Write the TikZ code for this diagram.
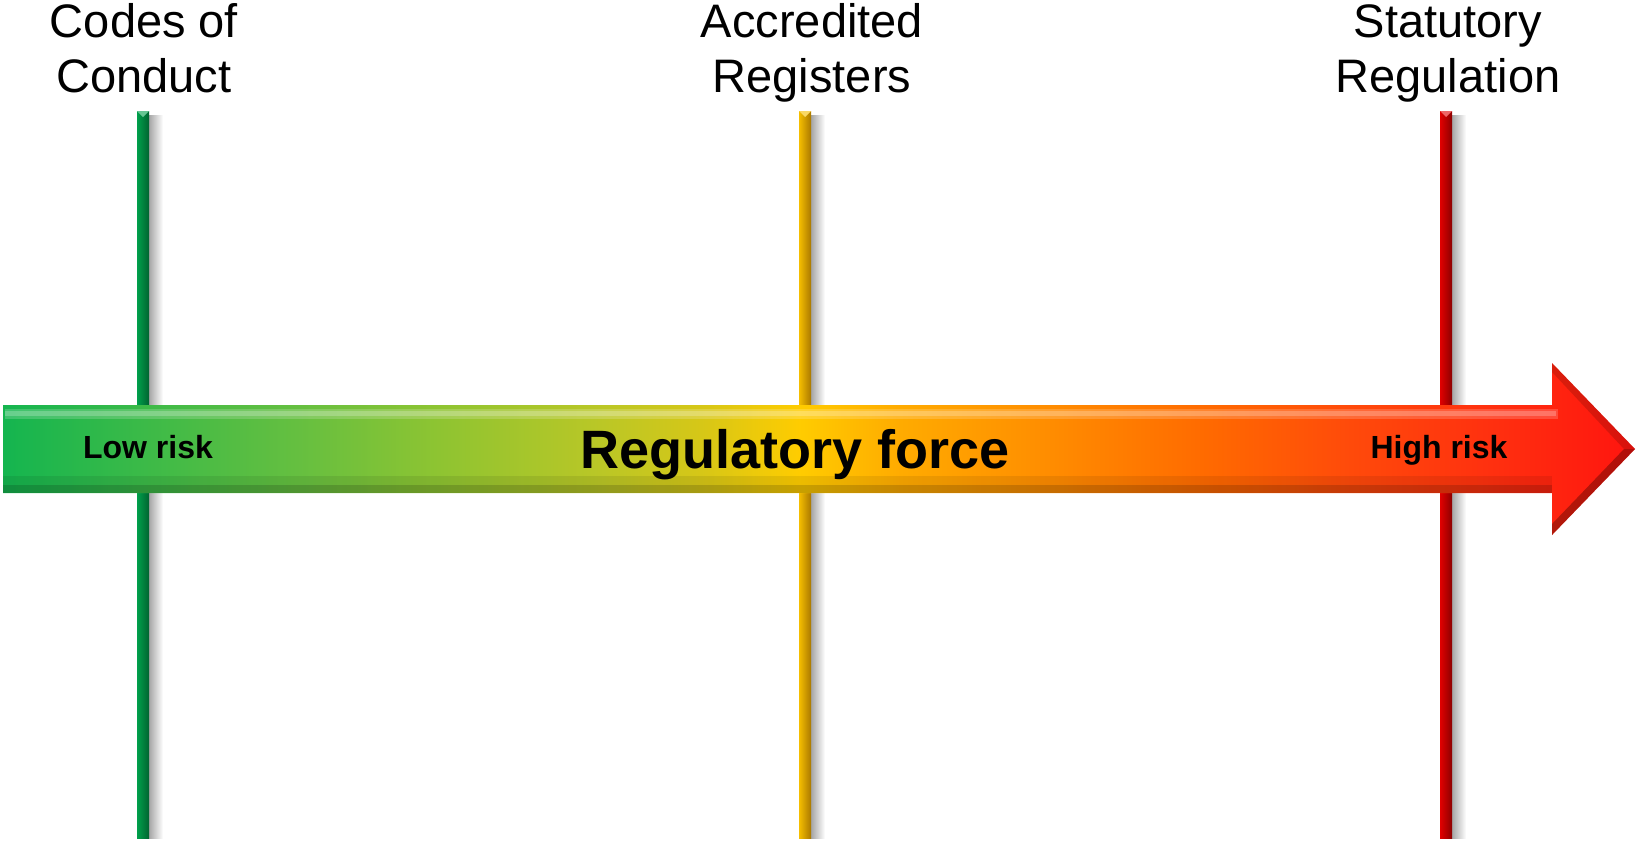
\documentclass[tikz,border=0pt]{standalone}
\usepackage{fontspec}
\setmainfont{Liberation Sans}
\usetikzlibrary{calc}
\definecolor{codesL}{RGB}{0,160,75}
\definecolor{codesD}{RGB}{0,100,48}
\definecolor{accredL}{RGB}{245,190,0}
\definecolor{accredD}{RGB}{170,120,0}
\definecolor{statutL}{RGB}{225,0,0}
\definecolor{statutD}{RGB}{140,0,0}
\pgfdeclarehorizontalshading{forceshade}{100bp}{rgb(0bp)=(0.08,0.71,0.31); rgb(25bp)=(0.08,0.71,0.31);
  rgb(29.5bp)=(0.24,0.73,0.28); rgb(34.1bp)=(0.40,0.75,0.25); rgb(38.7bp)=(0.57,0.77,0.19);
  rgb(43.3bp)=(0.73,0.78,0.15); rgb(46.4bp)=(0.84,0.78,0.09); rgb(49.4bp)=(1,0.80,0);
  rgb(52.5bp)=(1,0.67,0); rgb(57.1bp)=(1,0.55,0); rgb(61.7bp)=(1,0.42,0);
  rgb(66.3bp)=(1,0.29,0.04); rgb(70.9bp)=(1,0.18,0.06); rgb(75bp)=(1,0.08,0.06); rgb(100bp)=(1,0.08,0.06)}
\tikzset{
  regname/.style={font=\fontsize{23.5}{27.5}\selectfont,align=center,anchor=south,inner sep=0pt,text depth=0pt},
  riskname/.style={font=\fontsize{16}{19}\selectfont\bfseries,anchor=base,inner sep=0pt},
  forcename/.style={font=\fontsize{27}{32}\selectfont\bfseries,anchor=base,inner sep=0pt}
}
\begin{document}
\begin{tikzpicture}[x=0.5pt,y=-0.5pt]
\useasboundingbox (0,0) rectangle (1636,842);
\foreach \x/\col/\n in {143/codes/cod,805/accred/acc,1446/statut/sta}{
  \coordinate (\n top) at (\x,111);
  \coordinate (\n bot) at (\x,838);
  \shade[left color=black!35,right color=white] ($(\n top)+(6,4)$) rectangle ($(\n bot)+(20,0)$);
  \shade[left color=\col L,right color=\col D] ($(\n top)+(-6,0)$) rectangle ($(\n bot)+(6,0)$);
  \fill[\col L!60!white] ($(\n top)+(-6,0)$) -- ($(\n top)+(6,0)$) -- ($(\n top)+(0,6)$) -- cycle;
}
\path[shading=forceshade] (3,405) -- (1552,405) -- (1552,363) -- (1635,449) -- (1552,535) -- (1552,493) -- (3,493) -- cycle;
\fill[white,opacity=.18] (5,409) rectangle (1558,419);
\fill[white,opacity=.22] (5,411) rectangle (1556,416);
\fill[black,opacity=.08] (3,476) rectangle (1552,493);
\fill[black,opacity=.15] (3,485) rectangle (1552,493);
\fill[black,opacity=.30] (1635,449) -- (1552,535) -- (1552,524) -- (1624,449) -- cycle;
\fill[black,opacity=.15] (1635,449) -- (1552,363) -- (1552,372) -- (1624,449) -- cycle;
\node[regname] (codes) at (144,93) {Codes of\\Conduct};
\node[regname] (accred) at (812,93) {Accredited\\Registers};
\node[regname] (statut) at (1448,93) {Statutory\\Regulation};
\node[riskname] (low) at (148,458) {Low risk};
\node[forcename] (force) at (795,468) {Regulatory force};
\node[riskname] (high) at (1439,458) {High risk};
\end{tikzpicture}
\end{document}
